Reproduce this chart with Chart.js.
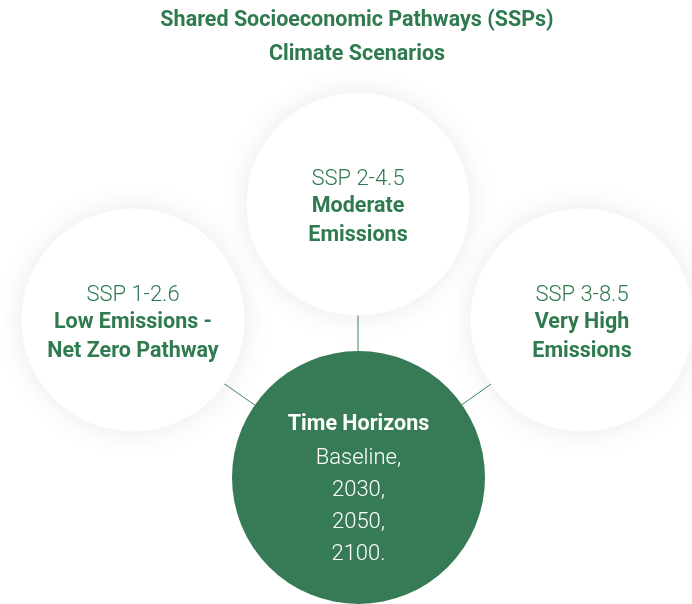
<!DOCTYPE html>
<html>
<head>
<meta charset="utf-8">
<style>
  html, body { margin: 0; padding: 0; background: #ffffff; }
  #wrap { width: 692px; height: 604px; }
</style>
<script src="https://cdn.jsdelivr.net/npm/chart.js@4"></script>
</head>
<body>
<div id="wrap"><canvas id="c" width="692" height="604"></canvas></div>
<script>
// ---- content ----
const titleLines = ['Shared Socioeconomic Pathways (SSPs)', 'Climate Scenarios'];
const scenarioCodes = ['SSP 1-2.6', 'SSP 2-4.5', 'SSP 3-8.5'];
const scenarioNames = [['Low Emissions -', 'Net Zero Pathway'], ['Moderate', 'Emissions'], ['Very High', 'Emissions']];
const hubTitle = 'Time Horizons';
const hubItems = ['Baseline,', '2030,', '2050,', '2100.'];

// ---- diagram layout (data units = pixels of the plot area) ----
const scenarioX = [133, 358, 582];
const scenarioY = [320, 204, 320];
const hubX = [358.5];
const hubY = [477.5];
const scenarioR = 111.5;
const hubR = 126.5;

const GREEN = '#367b55';
const TEXT_GREEN = '#2f7a4f';

const connectorData = [];
scenarioX.forEach((x, i) => {
  connectorData.push({ x: hubX[0], y: hubY[0] });
  connectorData.push({ x: x, y: scenarioY[i] });
  connectorData.push({ x: NaN, y: NaN });
});

const shadowPlugin = {
  id: 'circleShadow',
  beforeDatasetDraw(chart, args) {
    const ds = chart.data.datasets[args.index];
    if (ds.shadow) {
      const ctx = chart.ctx;
      ctx.save();
      ctx.shadowColor = 'rgba(0,0,0,0.085)';
      ctx.shadowBlur = 30;
      ctx.shadowOffsetX = 0;
      ctx.shadowOffsetY = 0;
    }
  },
  afterDatasetDraw(chart, args) {
    const ds = chart.data.datasets[args.index];
    if (ds.shadow) chart.ctx.restore();
  }
};

const labelPlugin = {
  id: 'nodeLabels',
  afterDatasetsDraw(chart) {
    const ctx = chart.ctx;
    ctx.save();
    ctx.textAlign = 'center';
    ctx.textBaseline = 'middle';
    const sMeta = chart.getDatasetMeta(1);
    sMeta.data.forEach((el, i) => {
      ctx.fillStyle = TEXT_GREEN;
      ctx.font = '300 22px Roboto, "Liberation Sans", sans-serif';
      ctx.fillText(scenarioCodes[i], el.x, el.y - 25);
      ctx.font = 'bold 21.5px Roboto, "Liberation Sans", sans-serif';
      scenarioNames[i].forEach((t, j) => ctx.fillText(t, el.x, el.y + 3 + j * 28.5));
    });
    const hMeta = chart.getDatasetMeta(2);
    hMeta.data.forEach((el) => {
      ctx.fillStyle = '#ffffff';
      ctx.font = 'bold 21.5px Roboto, "Liberation Sans", sans-serif';
      ctx.fillText(hubTitle, el.x, el.y - 52.5);
      ctx.font = '300 22px Roboto, "Liberation Sans", sans-serif';
      hubItems.forEach((t, j) => ctx.fillText(t, el.x, el.y - 19.5 + j * 32));
    });
    ctx.restore();
  }
};

new Chart(document.getElementById('c'), {
  type: 'bubble',
  data: {
    datasets: [
      {
        type: 'line',
        label: 'connectors',
        data: connectorData,
        borderColor: '#3f8760',
        borderWidth: 1,
        pointRadius: 0,
        spanGaps: false,
        fill: false,
        clip: false,
        order: 3
      },
      {
        label: 'scenarios',
        data: scenarioX.map((x, i) => ({ x: x, y: scenarioY[i], r: scenarioR })),
        backgroundColor: '#ffffff',
        borderWidth: 0,
        clip: false,
        shadow: true,
        order: 2
      },
      {
        label: 'horizons',
        data: hubX.map((x, i) => ({ x: x, y: hubY[i], r: hubR })),
        backgroundColor: GREEN,
        borderWidth: 0,
        clip: false,
        order: 1
      }
    ]
  },
  options: {
    responsive: false,
    animation: false,
    events: [],
    layout: { padding: { left: 22, right: 0, top: 0, bottom: 0 }, autoPadding: false },
    scales: {
      x: { type: 'linear', min: 22, max: 692, display: false },
      y: { type: 'linear', min: 72, max: 604, reverse: true, display: false }
    },
    plugins: {
      legend: { display: false },
      tooltip: { enabled: false },
      title: {
        display: true,
        text: titleLines,
        color: TEXT_GREEN,
        font: { family: 'Roboto, "Liberation Sans", sans-serif', size: 21.5, weight: 'bold', lineHeight: '34px' },
        padding: { top: 4, bottom: 0 }
      }
    }
  },
  plugins: [shadowPlugin, labelPlugin]
});
</script>
</body>
</html>
